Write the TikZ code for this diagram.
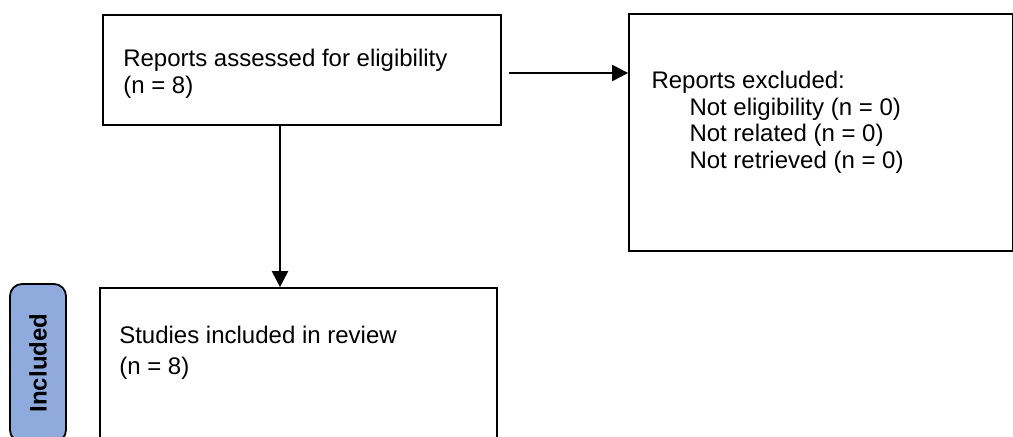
\documentclass[tikz,border=0pt]{standalone}
\usepackage{fontspec}
\setmainfont{Liberation Sans}
\usepackage{graphicx}
\usepackage{xcolor}
\usepackage{tikz}
\usetikzlibrary{positioning, arrows.meta}

\definecolor{labelblue}{HTML}{8FAADC}

\begin{document}
\begin{tikzpicture}[x=0.5pt, y=-0.5pt,
        main/.style={rectangle, draw, line width=1.1pt, inner sep=0pt},
        txt/.style={align=left, anchor=north west, inner sep=0pt, font=\fontsize{12}{13.3}\selectfont},
        side/.style={rectangle, draw, line width=0.9pt, rounded corners=6pt, fill=labelblue, inner sep=0pt,
            minimum width=28pt, minimum height=79pt, font=\fontsize{12}{14}\selectfont\bfseries},
        arr/.style={line width=1.1pt, -{Triangle[length=8pt, width=8pt]}}]
        \useasboundingbox (0,0) rectangle (1013,436);
        \clip (0,0) rectangle (1013,436);
        \node[main, minimum width=199pt, minimum height=55pt] (1) at (302,70) {};
        \node[main, minimum width=192pt, minimum height=118.5pt] (2) [right=63pt of 1.north east, anchor=north west, yshift=0.5pt] {};
        \node[main, minimum width=198.5pt, minimum height=80pt] (3) [below=80.5pt of 1.south west, anchor=north west, xshift=-1.5pt] {};
        \node[side] (inc) [left=17pt of 3.north west, anchor=north east, yshift=2pt, xshift=1pt] {\rotatebox{90}{Included}};
        % box texts
        \node[txt] (t1) at ([shift={(10.5pt,-17.5pt)}]1.north west) {Reports assessed for eligibility\\(n = 8)};
        \node[txt] (t2) at ([shift={(11.5pt,-29pt)}]2.north west) {Reports excluded:\\
            \hspace*{19pt}Not eligibility (n = 0)\\
            \hspace*{19pt}Not related (n = 0)\\
            \hspace*{19pt}Not retrieved (n = 0)};
        \node[txt, font=\fontsize{12}{15.5}\selectfont] (t3) at ([shift={(10pt,-19.5pt)}]3.north west) {Studies included in review\\(n = 8)};
        % arrows
        \draw[arr] ([shift={(3.5pt,-1.5pt)}]1.east) -- ([yshift=-1.5pt]1.east -| 2.west);
        \draw[arr] ([xshift=-11pt]1.south) -- ([xshift=-11pt]1.south |- 3.north);
    \end{tikzpicture}
\end{document}
